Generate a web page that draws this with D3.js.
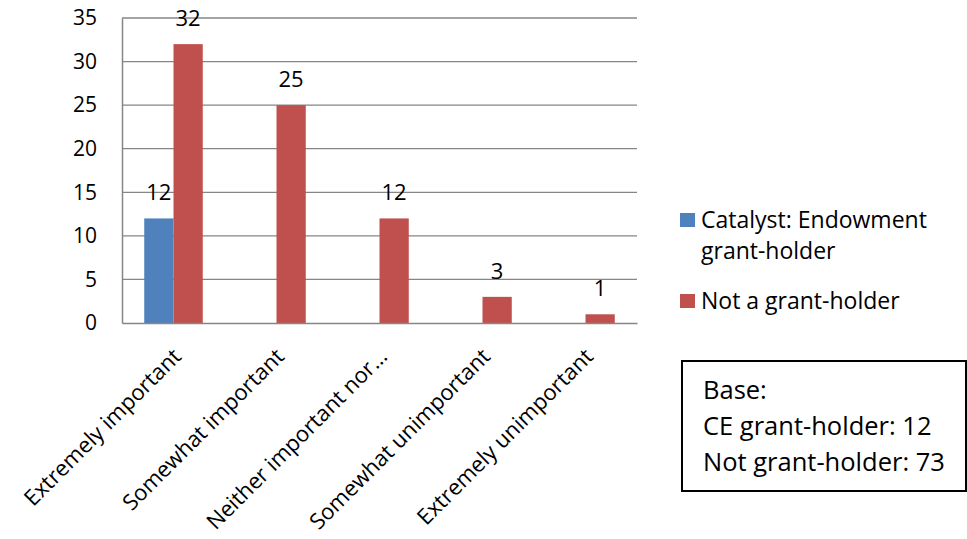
<!DOCTYPE html>
<html><head><meta charset="utf-8">
<script src="https://cdn.jsdelivr.net/npm/d3@7"></script>
<style>
html,body{margin:0;padding:0;background:#fff;}
svg{display:block;font-family:"Open Sans",sans-serif;}
</style></head>
<body>
<svg id="chart" width="967" height="539"></svg>
<script>
const categories = ["Extremely important","Somewhat important","Neither important nor…","Somewhat unimportant","Extremely unimportant"];
const seriesNames = ["Catalyst: Endowment grant-holder","Not a grant-holder"];
const grantHolder = [12, null, null, null, null];
const notGrantHolder = [32, 25, 12, 3, 1];
const yTicks = [0,5,10,15,20,25,30,35];
const baseLines = ["Base:","CE grant-holder: 12","Not grant-holder: 73"];

const colors = ["#4F81BD","#C0504D"];
const svg = d3.select("#chart");
const m = {left:122, right:330, top:18, bottom:216};
const W = 967, H = 539;
const x = d3.scaleBand().domain(categories).range([m.left, W - m.right]).paddingInner(0).paddingOuter(0);
const x1 = d3.scaleBand().domain([0,1]).range([0, x.bandwidth()]).paddingInner(0).paddingOuter(0.76);
const y = d3.scaleLinear().domain([0,35]).range([H - m.bottom, m.top]);

// gridlines
svg.append("g").selectAll("line").data(yTicks.filter(d=>d>0)).join("line")
  .attr("x1", m.left).attr("x2", W - m.right)
  .attr("y1", d=>y(d)).attr("y2", d=>y(d))
  .attr("stroke","#868686").attr("stroke-width",1.3);

// y axis
const yAxis = d3.axisLeft(y).tickValues(yTicks).tickSize(0).tickPadding(25);
const gy = svg.append("g").attr("transform",`translate(${m.left},0)`).call(yAxis);
gy.select(".domain").attr("stroke","#868686").attr("stroke-width",1.5);
gy.selectAll("text").attr("font-size",21).attr("fill","#000").attr("font-family","Open Sans");

// bars
const data = categories.map((c,i)=>({c, vals:[grantHolder[i], notGrantHolder[i]]}));
const groups = svg.append("g").selectAll("g").data(data).join("g")
  .attr("transform", d=>`translate(${x(d.c)},0)`);
groups.selectAll("rect").data(d=>d.vals.map((v,k)=>({v,k})).filter(e=>e.v!=null)).join("rect")
  .attr("x", e=>x1(e.k)).attr("width", x1.bandwidth())
  .attr("y", e=>y(e.v)).attr("height", e=>y(0)-y(e.v))
  .attr("fill", e=>colors[e.k]);
groups.selectAll("text").data(d=>d.vals.map((v,k)=>({v,k})).filter(e=>e.v!=null)).join("text")
  .attr("x", e=>x1(e.k)+x1.bandwidth()/2).attr("y", e=>y(e.v)-18)
  .attr("text-anchor","middle").attr("font-size",22).attr("fill","#000")
  .text(e=>e.v);

// x axis
const xAxis = d3.axisBottom(x).tickSize(0).tickFormat("");
const gx = svg.append("g").attr("transform",`translate(0,${y(0)})`).call(xAxis);
gx.select(".domain").attr("stroke","#868686").attr("stroke-width",1.5);
svg.append("g").selectAll("text").data(categories).join("text")
  .attr("transform", d=>`translate(${x(d)+x.bandwidth()/2+9},${y(0)+35}) rotate(-45)`)
  .attr("text-anchor","end").attr("font-size",22).attr("fill","#000")
  .text(d=>d);

// legend
const lg = svg.append("g");
const legendItems = [
  {k:0, lines:["Catalyst: Endowment","grant-holder"], y:213},
  {k:1, lines:["Not a grant-holder"], y:294}
];
legendItems.forEach(it=>{
  lg.append("rect").attr("x",680).attr("y",it.y).attr("width",15).attr("height",14).attr("fill",colors[it.k]);
  it.lines.forEach((t,j)=>{
    lg.append("text").attr("x",701).attr("y",it.y+15+j*31).attr("font-size",23).attr("fill","#000").text(t);
  });
});

// base box
const bx = svg.append("g");
bx.append("rect").attr("x",682).attr("y",361).attr("width",284).attr("height",130)
  .attr("fill","#fff").attr("stroke","#000").attr("stroke-width",2);
baseLines.forEach((t,j)=>{
  bx.append("text").attr("x",703).attr("y",399+j*36).attr("font-size",25.5).attr("fill","#000").text(t);
});
</script>
</body></html>
